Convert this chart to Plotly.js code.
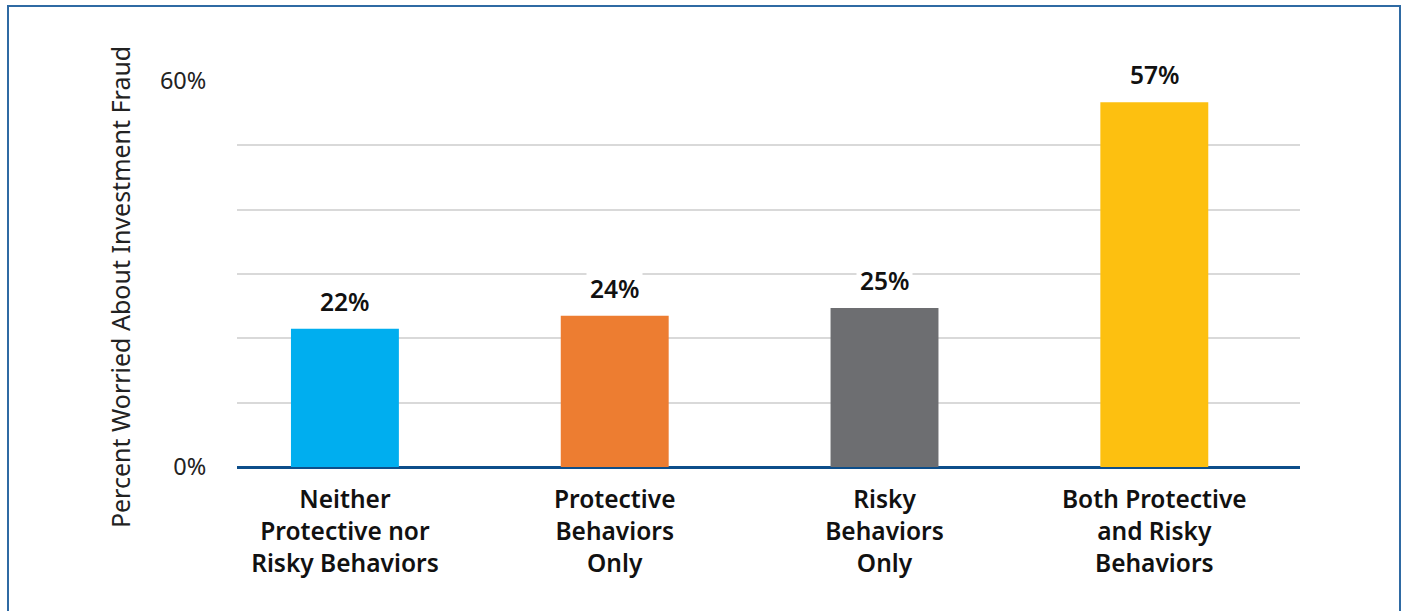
<!DOCTYPE html>
<html>
<head>
<meta charset="utf-8">
<script src="https://cdn.plot.ly/plotly-3.0.1.min.js"></script>
<style>
  html, body { margin: 0; padding: 0; background: #fff; }
  #chart { width: 1405px; height: 611px; }
  #frame { position: absolute; left: 7px; top: 5px; width: 1390px; height: 620px;
           border: 2px solid #2f6aa3; pointer-events: none; }
</style>
</head>
<body>
<div id="chart"></div>
<div id="frame"></div>
<script>
const categories = [
  "Neither<br>Protective nor<br>Risky Behaviors",
  "Protective<br>Behaviors<br>Only",
  "Risky<br>Behaviors<br>Only",
  "Both Protective<br>and Risky<br>Behaviors"
];
const values = [21.5, 23.5, 24.7, 56.7];
const valueLabels = ["22%", "24%", "25%", "57%"];
const barColors = ["#00aeef", "#ed7d31", "#6d6e71", "#fdc010"];
const yTickVals = [0, 10, 20, 30, 40, 50, 60];
const yTickText = ["0%", "", "", "", "", "", "60%"];
const yTitle = "Percent Worried About Investment Fraud";

const font = "Noto Sans, Open Sans, sans-serif";

const trace = {
  type: "bar",
  x: [0, 1, 2, 3],
  y: values,
  width: 0.4,
  marker: { color: barColors },
  hoverinfo: "none"
};

const annotations = values.map((v, i) => ({
  x: i, y: v, xref: "x", yref: "y",
  text: valueLabels[i],
  showarrow: false,
  yanchor: "bottom",
  yshift: 7,
  bgcolor: "#ffffff",
  borderpad: 3,
  font: { family: font, size: 24.5, weight: 600, color: "#111" }
}));

annotations.push({
  x: 0, y: 0.466, xref: "paper", yref: "paper",
  xanchor: "center", yanchor: "middle",
  xshift: -117,
  textangle: -90,
  showarrow: false,
  text: yTitle,
  font: { family: font, size: 25, color: "#222" }
});

const layout = {
  width: 1405, height: 611,
  margin: { l: 237, r: 105, t: 81, b: 144 },
  paper_bgcolor: "#fff", plot_bgcolor: "#fff",
  showlegend: false,
  xaxis: {
    range: [-0.4, 3.54],
    tickvals: [0, 1, 2, 3],
    ticktext: categories,
    tickfont: { family: font, size: 24.5, weight: 600, color: "#111" },
    showgrid: false, zeroline: false, showline: false,
    ticks: "outside", ticklen: 11, tickcolor: "rgba(0,0,0,0)",
    fixedrange: true
  },
  yaxis: {
    range: [0, 60],
    tickvals: yTickVals,
    ticktext: yTickText,
    tickfont: { family: font, size: 23.5, color: "#222" },
    showgrid: true, gridcolor: "#d9d9d9", gridwidth: 2,
    zeroline: true, zerolinecolor: "#0d4e8a", zerolinewidth: 3,
    showline: false,
    ticks: "outside", ticklen: 25, tickcolor: "rgba(0,0,0,0)",
    fixedrange: true
  },
  annotations: annotations
};

Plotly.newPlot("chart", [trace], layout, { displayModeBar: false, staticPlot: true });
</script>
</body>
</html>
